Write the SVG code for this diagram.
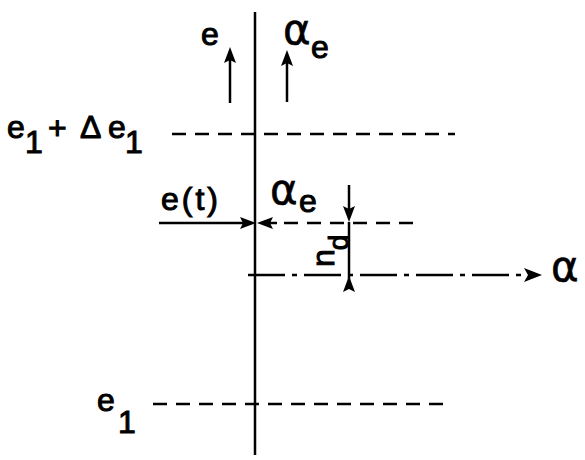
<svg xmlns="http://www.w3.org/2000/svg" width="585" height="460" viewBox="0 0 585 460">
<style>
.t{font-family:"Liberation Sans",Arial,sans-serif;font-size:32px;fill:#000;stroke:#000;stroke-width:1}
.a{font-family:"DejaVu Sans",sans-serif;font-size:42px;fill:#000;stroke:#000;stroke-width:0.6}
.ln{stroke:#000;stroke-width:2.5;fill:none}
.ds{stroke:#000;stroke-width:2.5;fill:none;stroke-dasharray:14 9}
.dd{stroke:#000;stroke-width:2.5;fill:none;stroke-dasharray:37 7 5 7}
.ah{fill:#000;stroke:none}
</style>
<g id="connectors">
<line class="ln" x1="255" y1="12" x2="255" y2="455"/>
<line class="ln" x1="230" y1="103" x2="230" y2="58"/>
<path class="ah" d="M230 47 L236 63 L230 60 L224 63 Z"/>
<line class="ln" x1="287" y1="102" x2="287" y2="60"/>
<path class="ah" d="M287 50 L293 66 L287 63 L281 66 Z"/>
<line class="ds" x1="172" y1="134" x2="455" y2="134"/>
<line class="ln" x1="159" y1="223" x2="245" y2="223"/>
<path class="ah" d="M256 223 L240 217 L243 223 L240 229 Z"/>
<line class="ln" x1="268" y1="223" x2="277" y2="223"/>
<path class="ah" d="M257 223 L273 217 L270 223 L273 229 Z"/>
<line class="ds" x1="284" y1="223" x2="420" y2="223"/>
<line class="ln" x1="349" y1="185" x2="349" y2="212"/>
<path class="ah" d="M349 222 L343 206 L349 209 L355 206 Z"/>
<line class="ln" x1="349" y1="222" x2="349" y2="288"/>
<path class="ah" d="M349 276 L343 292 L349 289 L355 292 Z"/>
<line class="dd" x1="248" y1="275" x2="528" y2="275"/>
<path class="ah" d="M542 275 L524 268 L528 275 L524 282 Z"/>
<line class="ds" x1="153" y1="404" x2="452" y2="404"/>
</g>
<g id="label-e-top"><text class="t" x="201" y="45">e</text></g>
<g id="label-alpha-top"><text class="a" x="283" y="44">α</text><text class="t" x="311" y="58">e</text></g>
<g id="label-e1-delta"><text class="t" x="7" y="138">e</text><text class="t" x="25" y="153">1</text><text class="t" x="48" y="139" font-size="28">+</text><text class="t" x="80" y="138">Δ</text><text class="t" x="108" y="138">e</text><text class="t" x="125" y="153">1</text></g>
<g id="label-et"><text class="t" x="161" y="210" letter-spacing="3">e(t)</text></g>
<g id="label-alpha-mid"><text class="a" x="270" y="204">α</text><text class="t" x="299" y="212">e</text></g>
<g id="label-nd"><text class="t" transform="translate(334,267) rotate(-90)">n<tspan dx="-1" dy="14" font-size="28">d</tspan></text></g>
<g id="label-alpha-right"><text class="a" x="551" y="281">α</text></g>
<g id="label-e1"><text class="t" x="97" y="411">e</text><text class="t" x="118" y="433">1</text></g>
</svg>
